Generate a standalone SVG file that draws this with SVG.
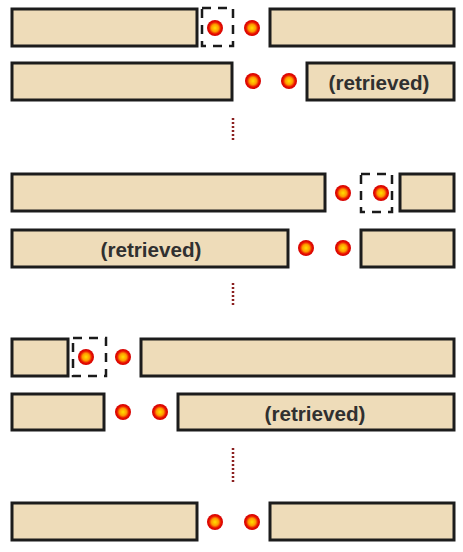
<svg xmlns="http://www.w3.org/2000/svg" width="463" height="552" viewBox="0 0 463 552">
<style>
.box{fill:#eedcb9;stroke:#1c1c1c;stroke-width:3}
.dot{fill:url(#g)}
.sel{fill:none;stroke:#1a1a1a;stroke-width:2.5;stroke-dasharray:9 7}
.ell{stroke:#8b2020;stroke-width:2.5;stroke-dasharray:2 2;fill:none}
.t{font-family:"Liberation Sans",Arial,sans-serif;font-size:21px;font-weight:bold;fill:#303030;text-anchor:middle;dominant-baseline:central}
</style>
<defs>
<radialGradient id="g" cx="50%" cy="50%" r="50%">
<stop offset="0" stop-color="#ffe000"/>
<stop offset="0.45" stop-color="#ff9a00"/>
<stop offset="0.75" stop-color="#e81000"/>
<stop offset="1" stop-color="#d40000"/>
</radialGradient>
</defs>
<rect width="463" height="552" fill="#ffffff"/>
<g id="connectors">
<line class="ell" x1="233" y1="118" x2="233" y2="140"/>
<line class="ell" x1="233" y1="283" x2="233" y2="305"/>
<line class="ell" x1="233" y1="448" x2="233" y2="484"/>
</g>
<g id="row1">
<rect class="box" x="12" y="9" width="185" height="37"/>
<rect class="box" x="270" y="9" width="184" height="37"/>
<rect class="sel" x="202" y="8" width="31" height="38"/>
<circle class="dot" cx="215" cy="28" r="8"/>
<circle class="dot" cx="252" cy="28" r="8"/>
</g>
<g id="row2">
<rect class="box" x="12" y="63" width="220" height="37"/>
<rect class="box" x="307" y="63" width="147" height="37"/>
<circle class="dot" cx="253" cy="81" r="8"/>
<circle class="dot" cx="289" cy="81" r="8"/>
<text class="t" x="379" y="82" textLength="101" lengthAdjust="spacingAndGlyphs">(retrieved)</text>
</g>
<g id="row3">
<rect class="box" x="12" y="174" width="313" height="37"/>
<rect class="box" x="400" y="174" width="54" height="37"/>
<rect class="sel" x="361" y="174" width="31" height="38"/>
<circle class="dot" cx="343" cy="193" r="8"/>
<circle class="dot" cx="381" cy="193" r="8"/>
</g>
<g id="row4">
<rect class="box" x="12" y="230" width="276" height="37"/>
<rect class="box" x="361" y="230" width="93" height="37"/>
<circle class="dot" cx="306" cy="248" r="8"/>
<circle class="dot" cx="343" cy="248" r="8"/>
<text class="t" x="151" y="249" textLength="101" lengthAdjust="spacingAndGlyphs">(retrieved)</text>
</g>
<g id="row5">
<rect class="box" x="12" y="339" width="56" height="37"/>
<rect class="box" x="141" y="339" width="313" height="37"/>
<rect class="sel" x="73" y="338" width="33" height="38"/>
<circle class="dot" cx="86" cy="357" r="8"/>
<circle class="dot" cx="123" cy="357" r="8"/>
</g>
<g id="row6">
<rect class="box" x="12" y="394" width="92" height="36"/>
<rect class="box" x="178" y="394" width="276" height="36"/>
<circle class="dot" cx="123" cy="412" r="8"/>
<circle class="dot" cx="160" cy="412" r="8"/>
<text class="t" x="315" y="413" textLength="101" lengthAdjust="spacingAndGlyphs">(retrieved)</text>
</g>
<g id="row7">
<rect class="box" x="12" y="503" width="185" height="37"/>
<rect class="box" x="270" y="503" width="184" height="37"/>
<circle class="dot" cx="215" cy="522" r="8"/>
<circle class="dot" cx="252" cy="522" r="8"/>
</g>
</svg>
